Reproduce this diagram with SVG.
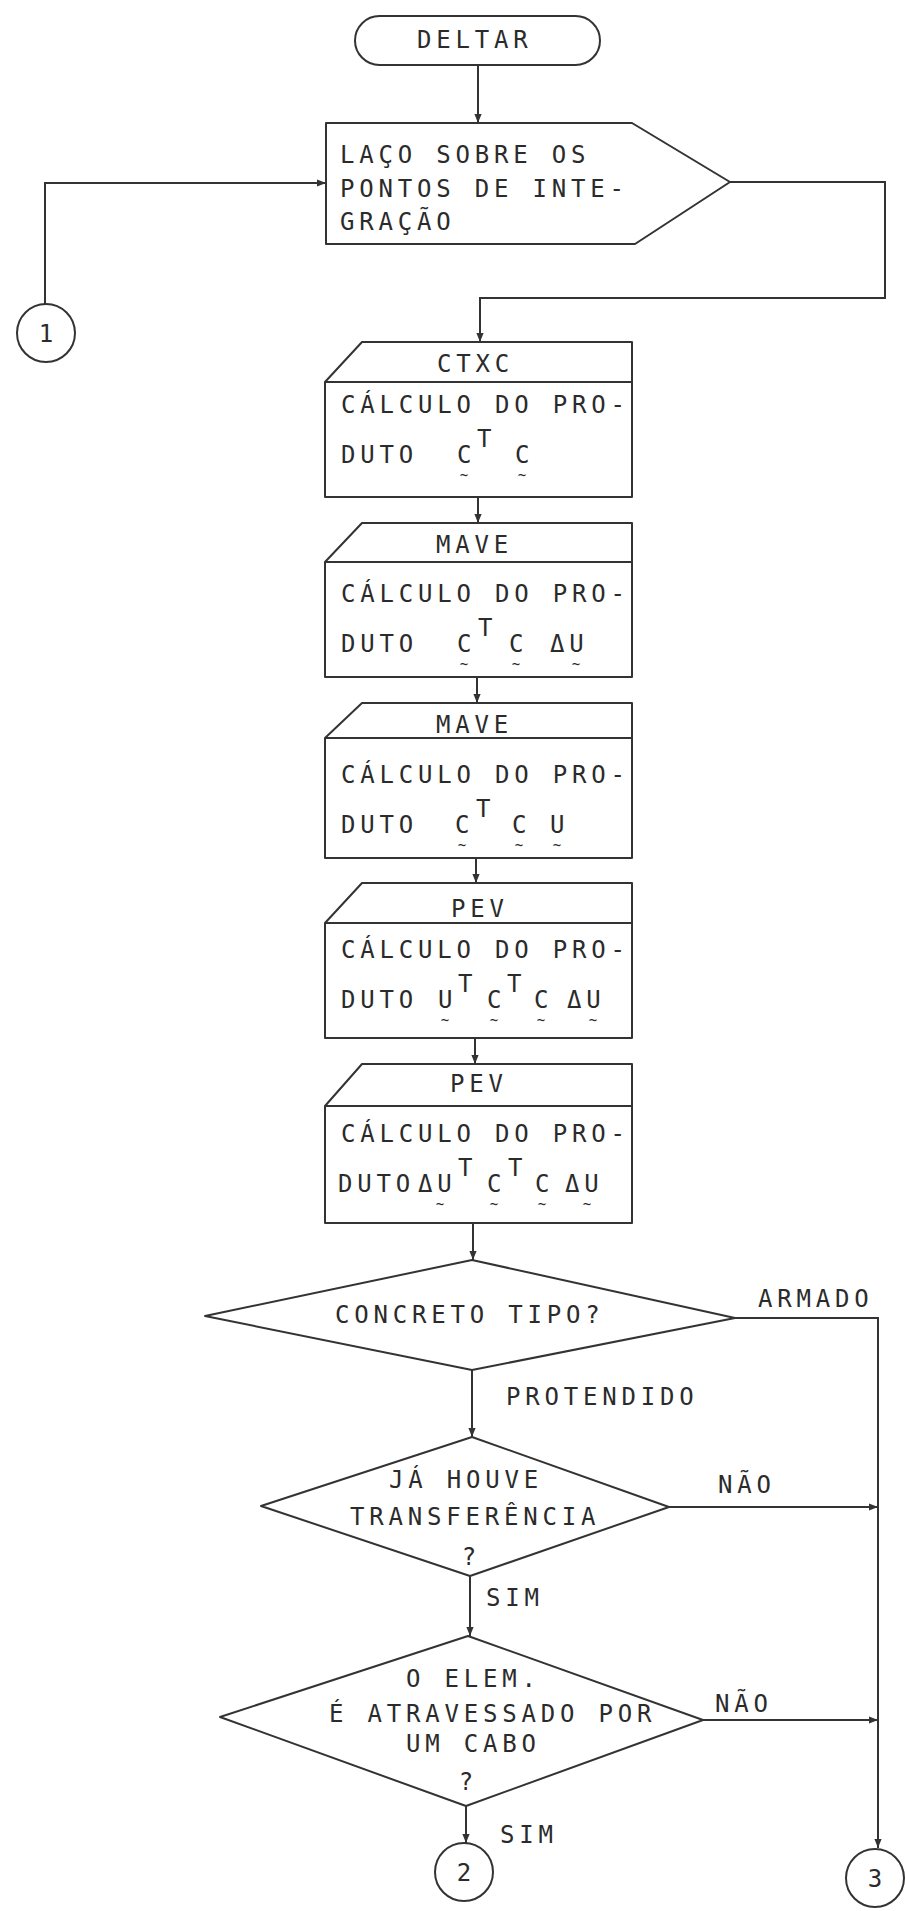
<svg xmlns="http://www.w3.org/2000/svg" width="905" height="1911" viewBox="0 0 905 1911">
<style>
.s{fill:#fff;stroke:#333;stroke-width:2;stroke-linejoin:round}
.c{fill:none;stroke:#333;stroke-width:2}
text{font-family:"DejaVu Sans Mono","Liberation Mono",monospace;font-size:24px;fill:#2b2b2b;letter-spacing:4.8px}
.t{font-size:14px;letter-spacing:0;text-anchor:middle}
.n{letter-spacing:0;text-anchor:middle}
</style>
<defs>
<marker id="a" viewBox="0 0 10 10" refX="10" refY="5" markerWidth="9" markerHeight="9" markerUnits="userSpaceOnUse" orient="auto">
<path d="M0,1 L10,5 L0,9 Z" fill="#333"/>
</marker>
</defs>
<g id="connectors">
<path class="c" d="M478,65 V123" marker-end="url(#a)"/>
<path class="c" d="M45,304 V183 H326" marker-end="url(#a)"/>
<path class="c" d="M730,182 H885 V298 H480 V342" marker-end="url(#a)"/>
<path class="c" d="M478,497 V523" marker-end="url(#a)"/>
<path class="c" d="M477,677 V703" marker-end="url(#a)"/>
<path class="c" d="M476,858 V883" marker-end="url(#a)"/>
<path class="c" d="M475,1038 V1064" marker-end="url(#a)"/>
<path class="c" d="M473,1223 V1260" marker-end="url(#a)"/>
<path class="c" d="M472,1370 V1437" marker-end="url(#a)"/>
<path class="c" d="M735,1318 H878 V1848" marker-end="url(#a)"/>
<path class="c" d="M669,1507 H878" marker-end="url(#a)"/>
<path class="c" d="M470,1576 V1636" marker-end="url(#a)"/>
<path class="c" d="M703,1720 H878" marker-end="url(#a)"/>
<path class="c" d="M466,1806 V1843" marker-end="url(#a)"/>
<text x="758" y="1307">ARMADO</text>
<text x="506" y="1405">PROTENDIDO</text>
<text x="718" y="1493">NÃO</text>
<text x="486" y="1606">SIM</text>
<text x="715" y="1712">NÃO</text>
<text x="500" y="1843">SIM</text>
</g>
<g id="deltar">
<rect class="s" x="355" y="16" width="245" height="49" rx="24.5"/>
<text x="417" y="48">DELTAR</text>
</g>
<g id="laco">
<path class="s" d="M326,123 H632 L730,182 L635,244 H326 Z"/>
<text x="340" y="163">LAÇO SOBRE OS</text>
<text x="340" y="197">PONTOS DE INTE-</text>
<text x="340" y="230">GRAÇÃO</text>
</g>
<g id="conn1">
<circle class="s" cx="46" cy="333" r="29"/>
<text class="n" x="46" y="342">1</text>
</g>
<g id="ctxc">
<path class="s" d="M362,342 H632 V497 H325 V382 Z"/>
<path class="c" d="M325,382 H632"/>
<text x="437" y="372">CTXC</text>
<text x="341" y="413">CÁLCULO DO PRO-</text>
<text x="341" y="463">DUTO</text>
<text x="457" y="463">C</text><text x="477" y="447">T</text><text x="515" y="463">C</text>
<text class="t" x="464" y="480">~</text><text class="t" x="522" y="480">~</text>
</g>
<g id="mave1">
<path class="s" d="M362,523 H632 V677 H325 V562 Z"/>
<path class="c" d="M325,562 H632"/>
<text x="436" y="553">MAVE</text>
<text x="341" y="602">CÁLCULO DO PRO-</text>
<text x="341" y="652">DUTO</text>
<text x="457" y="652">C</text><text x="478" y="636">T</text><text x="509" y="652">C</text><text x="550" y="652">ΔU</text>
<text class="t" x="464" y="669">~</text><text class="t" x="516" y="669">~</text><text class="t" x="576" y="669">~</text>
</g>
<g id="mave2">
<path class="s" d="M362,703 H632 V858 H325 V738 Z"/>
<path class="c" d="M325,738 H632"/>
<text x="436" y="733">MAVE</text>
<text x="341" y="783">CÁLCULO DO PRO-</text>
<text x="341" y="833">DUTO</text>
<text x="455" y="833">C</text><text x="476" y="817">T</text><text x="512" y="833">C</text><text x="550" y="833">U</text>
<text class="t" x="462" y="850">~</text><text class="t" x="519" y="850">~</text><text class="t" x="557" y="850">~</text>
</g>
<g id="pev1">
<path class="s" d="M362,883 H632 V1038 H325 V923 Z"/>
<path class="c" d="M325,923 H632"/>
<text x="451" y="917">PEV</text>
<text x="341" y="958">CÁLCULO DO PRO-</text>
<text x="341" y="1008">DUTO</text>
<text x="438" y="1008">U</text><text x="458" y="992">T</text><text x="487" y="1008">C</text><text x="507" y="992">T</text><text x="534" y="1008">C</text><text x="567" y="1008">ΔU</text>
<text class="t" x="445" y="1025">~</text><text class="t" x="494" y="1025">~</text><text class="t" x="541" y="1025">~</text><text class="t" x="593" y="1025">~</text>
</g>
<g id="pev2">
<path class="s" d="M362,1064 H632 V1223 H325 V1106 Z"/>
<path class="c" d="M325,1106 H632"/>
<text x="450" y="1092">PEV</text>
<text x="341" y="1142">CÁLCULO DO PRO-</text>
<text x="338" y="1192" letter-spacing="3">DUTO</text>
<text x="418" y="1192" letter-spacing="3">ΔU</text><text x="458" y="1176">T</text><text x="487" y="1192">C</text><text x="508" y="1176">T</text><text x="535" y="1192">C</text><text x="565" y="1192" letter-spacing="3">ΔU</text>
<text class="t" x="440" y="1209">~</text><text class="t" x="494" y="1209">~</text><text class="t" x="542" y="1209">~</text><text class="t" x="587" y="1209">~</text>
</g>
<g id="concreto">
<path class="s" d="M472,1260 L735,1318 L472,1370 L205,1316 Z"/>
<text x="335" y="1323">CONCRETO TIPO?</text>
</g>
<g id="transferencia">
<path class="s" d="M472,1437 L669,1507 L470,1576 L261,1506 Z"/>
<text x="389" y="1488">JÁ HOUVE</text>
<text x="350" y="1525">TRANSFERÊNCIA</text>
<text class="n" x="469" y="1565">?</text>
</g>
<g id="cabo">
<path class="s" d="M468,1636 L703,1720 L466,1806 L220,1717 Z"/>
<text x="406" y="1687">O ELEM.</text>
<text x="329" y="1722">É ATRAVESSADO POR</text>
<text x="406" y="1752">UM CABO</text>
<text class="n" x="466" y="1790">?</text>
</g>
<g id="conn2">
<circle class="s" cx="464" cy="1872" r="29"/>
<text class="n" x="464" y="1881">2</text>
</g>
<g id="conn3">
<circle class="s" cx="875" cy="1878" r="29"/>
<text class="n" x="875" y="1887">3</text>
</g>
</svg>
